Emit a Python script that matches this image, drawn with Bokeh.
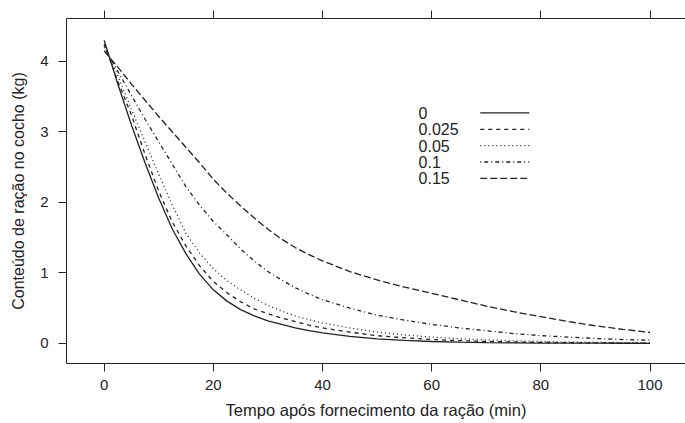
from bokeh.plotting import figure
from bokeh.models import Range1d, LinearAxis, FixedTicker, Label
from bokeh.embed import file_html
from bokeh.resources import INLINE

# time (min)
t = [0, 2.5, 5, 7.5, 10, 12.5, 15, 17.5, 20, 22.5, 25, 27.5, 30, 32.5, 35, 37.5,
     40, 45, 50, 55, 60, 65, 70, 75, 80, 85, 90, 95, 100]

# feed content in the trough (kg) for each level
y_0 = [4.30, 3.68, 3.10, 2.56, 2.06, 1.62, 1.27, 0.98, 0.76, 0.60, 0.48, 0.39, 0.32, 0.27, 0.22, 0.18,
       0.15, 0.10, 0.065, 0.042, 0.027, 0.018, 0.012, 0.008, 0.005, 0.004, 0.003, 0.002, 0.001]
y_0025 = [4.25, 3.72, 3.24, 2.68, 2.16, 1.72, 1.38, 1.10, 0.88, 0.72, 0.59, 0.49, 0.42, 0.36, 0.31, 0.26,
          0.22, 0.16, 0.11, 0.08, 0.055, 0.04, 0.028, 0.02, 0.014, 0.01, 0.007, 0.005, 0.004]
y_005 = [4.22, 3.80, 3.32, 2.86, 2.40, 1.96, 1.56, 1.28, 1.06, 0.89, 0.76, 0.64, 0.54, 0.46, 0.39, 0.34,
         0.29, 0.22, 0.16, 0.12, 0.09, 0.067, 0.05, 0.037, 0.028, 0.021, 0.016, 0.012, 0.01]
y_01 = [4.20, 3.86, 3.52, 3.18, 2.86, 2.54, 2.22, 1.96, 1.73, 1.54, 1.34, 1.17, 1.02, 0.90, 0.79, 0.70,
        0.62, 0.50, 0.40, 0.33, 0.27, 0.22, 0.18, 0.14, 0.11, 0.09, 0.07, 0.055, 0.045]
y_015 = [4.15, 3.92, 3.68, 3.45, 3.22, 3.00, 2.78, 2.56, 2.33, 2.13, 1.95, 1.78, 1.62, 1.48, 1.36, 1.26,
         1.17, 1.02, 0.90, 0.80, 0.71, 0.62, 0.53, 0.45, 0.38, 0.31, 0.25, 0.20, 0.155]

levels = ["0", "0.025", "0.05", "0.1", "0.15"]
series = [y_0, y_0025, y_005, y_01, y_015]
dashes = ["solid", "4 4", "1 3", "1 3 4 3", "7 3"]

x_ticks = [0, 20, 40, 60, 80, 100]
y_ticks = [0, 1, 2, 3, 4]

FONT = "Liberation Sans"
INK = "#222222"

p = figure(width=685, height=423, output_backend="svg", toolbar_location=None,
           x_range=Range1d(-6.9, 106.5), y_range=Range1d(-0.285, 4.61),
           x_axis_location=None, y_axis_location=None,
           min_border_left=66, min_border_right=0, min_border_top=18, min_border_bottom=60)
p.grid.visible = False
p.outline_line_color = None
p.background_fill_color = "white"

def style(ax, ticks):
    ax.ticker = FixedTicker(ticks=ticks)
    ax.minor_tick_line_color = None
    ax.major_tick_in = 0
    ax.major_tick_out = 8
    ax.axis_line_color = INK
    ax.major_tick_line_color = INK
    ax.major_label_text_font = FONT
    ax.major_label_text_color = INK
    ax.axis_label_text_font = FONT
    ax.axis_label_text_color = INK
    ax.axis_label_text_font_style = "normal"

xb = LinearAxis(axis_label="Tempo após fornecimento da ração (min)")
style(xb, x_ticks)
xb.major_label_text_font_size = "15px"
xb.major_label_standoff = 8
xb.axis_label_text_font_size = "16.5px"
xb.axis_label_standoff = 8
p.add_layout(xb, "below")

yl = LinearAxis(axis_label="Conteúdo de ração no cocho (kg)")
style(yl, y_ticks)
yl.major_label_text_font_size = "15px"
yl.major_label_standoff = 10
yl.major_label_orientation = "horizontal"
yl.axis_label_text_font_size = "16px"
yl.axis_label_standoff = 10
p.add_layout(yl, "left")

xt = LinearAxis()
style(xt, x_ticks)
xt.major_label_text_font_size = "1px"
xt.major_label_text_alpha = 0
xt.major_label_standoff = 0
p.add_layout(xt, "above")

for ys, d in zip(series, dashes):
    p.line(t, ys, line_color=INK, line_width=1.3, line_dash=d)

# legend (label, then line sample)
leg_x_text, leg_x0, leg_x1 = 57.6, 68.9, 77.9
leg_y0, leg_dy = 3.27, 0.232
for i, (lab, d) in enumerate(zip(levels, dashes)):
    yy = leg_y0 - i * leg_dy
    p.add_layout(Label(x=leg_x_text, y=yy, text=lab, text_font=FONT, text_font_size="16px",
                       text_color=INK, text_baseline="middle", text_align="left"))
    p.line([leg_x0, leg_x1], [yy, yy], line_color=INK, line_width=1.3, line_dash=d)

open("out.html", "w").write(file_html(p, INLINE))
